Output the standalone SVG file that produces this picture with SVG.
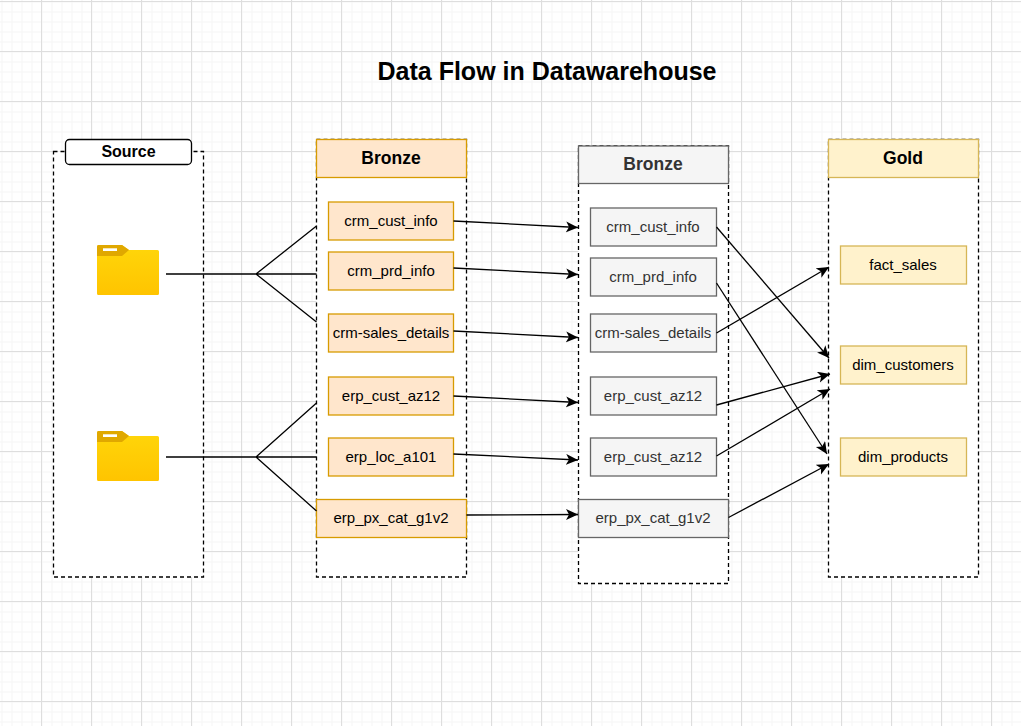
<svg xmlns="http://www.w3.org/2000/svg" width="1021" height="726" viewBox="0 0 1021 726">
<style>
text{font-family:"Liberation Sans",Arial,sans-serif;text-anchor:middle;fill:#000}
.t{font-size:15px}
.h{font-size:17.5px;font-weight:bold}
.lane{fill:#fff;stroke:#000;stroke-width:1.300;stroke-dasharray:4 3}
.b{fill:#ffe6cc;stroke:#d79b00;stroke-width:1.300}
.s{fill:#f5f5f5;stroke:#666;stroke-width:1.300}
.g{fill:#fff2cc;stroke:#d6b656;stroke-width:1.300}
.gt{fill:#333}
.c{fill:none;stroke:#000;stroke-width:1.300}
.a{marker-end:url(#arr)}
</style>
<defs>
<pattern id="minor" x="1.500" y="1.500" width="10" height="10" patternUnits="userSpaceOnUse"><path d="M0 .5H10M.5 0V10" fill="none" stroke="#f5f5f5"/></pattern>
<pattern id="major" x="41" y="1" width="50" height="50" patternUnits="userSpaceOnUse"><path d="M0 .5H50M.5 0V50" fill="none" stroke="#dedede"/></pattern>
<marker id="arr" markerUnits="userSpaceOnUse" markerWidth="14" markerHeight="12" refX="12" refY="5.500" orient="auto"><path d="M0 0L12 5.500L0 11L3 5.500Z" fill="#000"/></marker>
<linearGradient id="fold" x1="0" y1="0" x2="0" y2="1"><stop offset="0" stop-color="#ffd60a"/><stop offset="1" stop-color="#ffc400"/></linearGradient>
<g id="folder">
<path d="M0 1.500Q0 0 1.500 0H25L32 5H60.500Q62 5 62 6.500V48.500Q62 50 60.500 50H1.500Q0 50 0 48.500Z" fill="url(#fold)"/>
<path d="M0 11V1.500Q0 0 1.500 0H25L32 5L25 11Z" fill="#e0a800"/>
<rect x="6" y="3.300" width="14" height="2.700" fill="#fff"/>
</g>
</defs>
<rect width="1021" height="726" fill="#fff"/>
<rect width="1021" height="726" fill="url(#minor)"/>
<rect width="1021" height="726" fill="url(#major)"/>
<text x="547" y="79.500" style="font-size:25px;font-weight:bold">Data Flow in Datawarehouse</text>

<g id="source">
<rect class="lane" x="53.500" y="151.500" width="150" height="425.500"/>
<rect x="65.500" y="139.500" width="126" height="25" rx="4" fill="#fff" stroke="#000" stroke-width="1.300"/>
<text class="h" x="128.500" y="157" style="font-size:16px">Source</text>
<use href="#folder" x="97" y="245"/>
<use href="#folder" x="97" y="431"/>
</g>
<g id="bronze">
<rect class="lane" x="316.500" y="139.500" width="150" height="437.500"/>
<rect class="b" x="316.500" y="139.500" width="150" height="38"/>
<text class="h" x="391" y="164">Bronze</text>
</g>
<g id="silver">
<rect class="lane" x="578.500" y="146" width="150" height="437.500"/>
<rect class="s" x="578.500" y="146" width="150" height="37.500"/>
<text class="h gt" x="653" y="170">Bronze</text>
</g>
<g id="gold">
<rect class="lane" x="828.500" y="139.500" width="150" height="437.500"/>
<rect class="g" x="828.500" y="139.500" width="150" height="38"/>
<text class="h" x="903" y="164">Gold</text>
</g>

<g id="b1"><rect class="b" x="328.500" y="202" width="125" height="38"/><text class="t" x="391" y="226">crm_cust_info</text></g>
<g id="b2"><rect class="b" x="328.500" y="252" width="125" height="38"/><text class="t" x="391" y="276">crm_prd_info</text></g>
<g id="b3"><rect class="b" x="328.500" y="314" width="125" height="38"/><text class="t" x="391" y="338">crm-sales_details</text></g>
<g id="b4"><rect class="b" x="328.500" y="377" width="125" height="38"/><text class="t" x="391" y="401">erp_cust_az12</text></g>
<g id="b5"><rect class="b" x="328.500" y="438" width="125" height="38"/><text class="t" x="391" y="462">erp_loc_a101</text></g>
<g id="b6"><rect class="b" x="316.500" y="499.500" width="150" height="38"/><text class="t" x="391" y="523">erp_px_cat_g1v2</text></g>

<g id="s1"><rect class="s" x="590.500" y="208" width="126" height="38"/><text class="t gt" x="653" y="232">crm_cust_info</text></g>
<g id="s2"><rect class="s" x="590.500" y="258" width="126" height="38"/><text class="t gt" x="653" y="282">crm_prd_info</text></g>
<g id="s3"><rect class="s" x="590.500" y="314" width="126" height="38"/><text class="t gt" x="653" y="338">crm-sales_details</text></g>
<g id="s4"><rect class="s" x="590.500" y="377" width="126" height="38"/><text class="t gt" x="653" y="401">erp_cust_az12</text></g>
<g id="s5"><rect class="s" x="590.500" y="438" width="126" height="38"/><text class="t gt" x="653" y="462">erp_cust_az12</text></g>
<g id="s6"><rect class="s" x="578.500" y="499.500" width="150" height="38"/><text class="t gt" x="653" y="523">erp_px_cat_g1v2</text></g>

<g id="g1"><rect class="g" x="840.500" y="246" width="126" height="38"/><text class="t" x="903" y="270">fact_sales</text></g>
<g id="g2"><rect class="g" x="840.500" y="346" width="126" height="38"/><text class="t" x="903" y="370">dim_customers</text></g>
<g id="g3"><rect class="g" x="840.500" y="438" width="126" height="38"/><text class="t" x="903" y="462">dim_products</text></g>

<g id="connectors">
<path class="c" d="M166 274H316.500M256 274L316.500 226M256 274L316.500 322"/>
<path class="c" d="M166 457H316.500M256 457L316.500 403M256 457L316.500 511"/>
<path class="c a" d="M453.500 221L578 227.500"/>
<path class="c a" d="M453.500 268L578 274.500"/>
<path class="c a" d="M453.500 331L578 337.500"/>
<path class="c a" d="M453.500 396L578 402.500"/>
<path class="c a" d="M453.500 454L578 460"/>
<path class="c a" d="M466.500 515L578 514.500"/>
<path class="c a" d="M716.500 227L829 358"/>
<path class="c a" d="M716.500 283L827 454"/>
<path class="c a" d="M716.500 333L829 267"/>
<path class="c a" d="M716.500 405L830 374"/>
<path class="c a" d="M716.500 456L830 389"/>
<path class="c a" d="M728.500 517.500L829 464"/>
</g>
</svg>
